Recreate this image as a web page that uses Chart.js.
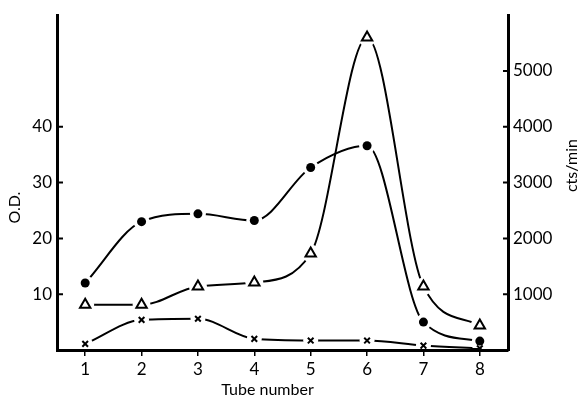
<!DOCTYPE html>
<html>
<head>
<meta charset="utf-8">
<script src="https://cdn.jsdelivr.net/npm/chart.js@4"></script>
<style>
  html, body { margin: 0; padding: 0; background: #fff; }
  #wrap { width: 580px; height: 401px; }
</style>
</head>
<body>
<div id="wrap"><canvas id="chart"></canvas></div>
<script>
// tube numbers along the bottom
const tubes = ['1', '2', '3', '4', '5', '6', '7', '8'];
// filled circles (O.D.)
const odCircles = [12.0, 23.0, 24.4, 23.2, 32.7, 36.6, 5.0, 1.6];
// open triangles (cts/min)
const ctsTriangles = [810, 810, 1140, 1210, 1730, 5600, 1140, 440];
// crosses (O.D.)
const odCrosses = [1.1, 5.4, 5.6, 2.0, 1.7, 1.7, 0.8, 0.3];
// ticks shown on each vertical axis
const odTicks = [10, 20, 30, 40];
const ctsTicks = [1000, 2000, 3000, 4000, 5000];

const FONT = 'Lato, "Open Sans", sans-serif';

const bgPlugin = {
    id: 'custom_canvas_background_color',
    beforeDraw: (chart) => {
        const ctx = chart.canvas.getContext('2d');
        ctx.save();
        ctx.globalCompositeOperation = 'destination-over';
        ctx.fillStyle = 'white';
        ctx.fillRect(0, 0, chart.width, chart.height);
        ctx.restore();
    }
};

// white gap round every marker, then the markers again on top
const gapPlugin = {
    id: 'marker_gaps',
    afterDatasetsDraw: (chart) => {
        const ctx = chart.ctx;
        const a = chart.chartArea;
        const metas = chart.getSortedVisibleDatasetMetas();
        ctx.save();
        ctx.beginPath();
        ctx.rect(a.left + 2, a.top, a.right - a.left - 4, a.bottom - a.top - 2);
        ctx.clip();
        ctx.fillStyle = '#fff';
        metas.forEach(meta => {
            const r = chart.data.datasets[meta.index].gap;
            meta.data.forEach(p => {
                ctx.beginPath();
                ctx.arc(p.x, p.y, r, 0, Math.PI * 2);
                ctx.fill();
            });
        });
        ctx.restore();
        metas.forEach(meta => meta.data.forEach(p => p.draw(ctx, a)));
    }
};

// inward tick marks on both vertical axes + axis titles
const axisPlugin = {
    id: 'axis_extras',
    afterDraw: (chart) => {
        const ctx = chart.ctx;
        const a = chart.chartArea;
        const y = chart.scales.y, y1 = chart.scales.y1;
        ctx.save();
        ctx.strokeStyle = '#000';
        ctx.lineWidth = 2;
        ctx.beginPath();
        odTicks.forEach(v => {
            const py = y.getPixelForValue(v);
            ctx.moveTo(a.left, py); ctx.lineTo(a.left + 6, py);
        });
        ctsTicks.forEach(v => {
            const py = y1.getPixelForValue(v);
            ctx.moveTo(a.right - 5, py); ctx.lineTo(a.right, py);
        });
        ctx.stroke();

        ctx.fillStyle = '#000';
        ctx.textAlign = 'center';
        ctx.textBaseline = 'middle';
        const midY = (a.top + a.bottom) / 2;

        ctx.font = '16px ' + FONT;
        ctx.save();
        ctx.translate(15, midY + 25);
        ctx.rotate(-Math.PI / 2);
        ctx.fillText('O.D.', 0, 0);
        ctx.restore();

        ctx.save();
        ctx.translate(572, midY - 17);
        ctx.rotate(-Math.PI / 2);
        ctx.fillText('cts/min', 0, 0);
        ctx.restore();

        ctx.fillText('Tube number', (a.left + a.right) / 2 - 15, 390);
        ctx.restore();
    }
};

function createChart() {
    const ctx = document.getElementById('chart').getContext('2d');
    const lineStyle = {
        borderColor: '#000',
        borderWidth: 2,
        cubicInterpolationMode: 'monotone',
        pointBorderColor: '#000',
        fill: false
    };
    new Chart(ctx, {
        type: 'line',
        data: {
            labels: tubes,
            datasets: [{
                ...lineStyle,
                label: 'O.D. (circles)',
                data: odCircles,
                yAxisID: 'y',
                pointStyle: 'circle',
                pointRadius: 4.5,
                pointBackgroundColor: '#000',
                pointBorderWidth: 0,
                gap: 8
            }, {
                ...lineStyle,
                label: 'cts/min (triangles)',
                data: ctsTriangles,
                yAxisID: 'y1',
                pointStyle: 'triangle',
                pointRadius: 6,
                pointBackgroundColor: '#fff',
                pointBorderWidth: 2,
                gap: 9
            }, {
                ...lineStyle,
                label: 'O.D. (crosses)',
                data: odCrosses,
                yAxisID: 'y',
                pointStyle: 'crossRot',
                pointRadius: 4,
                pointBorderWidth: 2,
                gap: 7.5
            }]
        },
        options: {
            responsive: true,
            maintainAspectRatio: false,
            animation: false,
            layout: { padding: { top: 12, left: 0, right: 0, bottom: 0 } },
            plugins: {
                legend: { display: false },
                tooltip: { enabled: false }
            },
            scales: {
                x: {
                    type: 'category',
                    offset: true,
                    afterFit: (s) => { s.height = 51; },
                    border: { display: true, color: '#000', width: 3 },
                    grid: {
                        display: true, offset: false, drawOnChartArea: false,
                        drawTicks: true, tickLength: 6, color: '#000', lineWidth: 1.5
                    },
                    ticks: { color: '#000', padding: 3, font: { family: FONT, size: 17 } }
                },
                y: {
                    position: 'left',
                    min: 0,
                    max: 60,
                    afterBuildTicks: (s) => { s.ticks = odTicks.map(v => ({ value: v })); },
                    afterFit: (s) => { s.width = 57; },
                    border: { display: true, color: '#000', width: 3 },
                    grid: { display: true, drawOnChartArea: false, drawTicks: false },
                    ticks: {
                        color: '#000', padding: 5, font: { family: FONT, size: 17 },
                        callback: (v) => String(v)
                    }
                },
                y1: {
                    position: 'right',
                    min: 0,
                    max: 6000,
                    afterBuildTicks: (s) => { s.ticks = ctsTicks.map(v => ({ value: v })); },
                    afterFit: (s) => { s.width = 72; },
                    border: { display: true, color: '#000', width: 3 },
                    grid: { display: true, drawOnChartArea: false, drawTicks: false },
                    ticks: {
                        color: '#000', padding: 5, font: { family: FONT, size: 17 },
                        callback: (v) => String(v)
                    }
                }
            }
        },
        plugins: [bgPlugin, gapPlugin, axisPlugin]
    });
}

createChart();
</script>
</body>
</html>
